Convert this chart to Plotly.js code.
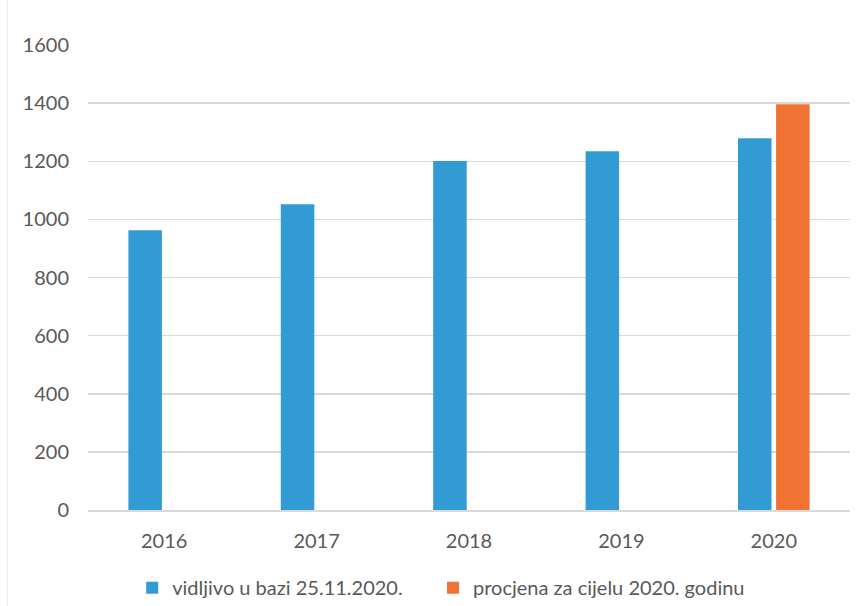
<!DOCTYPE html>
<html><head><meta charset="utf-8">
<script src="https://cdn.plot.ly/plotly-3.0.1.min.js"></script>
<style>html,body{margin:0;padding:0;background:#fff;}#chart{width:867px;height:606px;}</style>
</head><body><div id="chart"></div>
<script>
const categories = ['2016', '2017', '2018', '2019', '2020'];
const visibleValues = [963, 1052, 1201, 1234, 1279];
const estimateValues = [null, null, null, null, 1396];
const seriesNames = ['vidljivo u bazi 25.11.2020.', 'procjena za cijelu 2020. godinu'];
const yTicks = [0, 200, 400, 600, 800, 1000, 1200, 1400, 1600];

const font = 'Lato, "Open Sans", sans-serif';
const traces = [
  {type: 'bar', x: categories, y: visibleValues, name: seriesNames[0], marker: {color: '#339BD4'}, hoverinfo: 'x+y', legend: 'legend'},
  {type: 'bar', x: categories, y: estimateValues, name: seriesNames[1], marker: {color: '#F07333'}, hoverinfo: 'x+y', legend: 'legend2'}
];
const legendStyle = {orientation: 'h', xanchor: 'left', y: -0.125, yanchor: 'top', font: {size: 20, color: '#595959'}, itemwidth: 30};
const layout = {
  width: 867, height: 606,
  margin: {l: 88, r: 17, t: 45, b: 96, autoexpand: false},
  paper_bgcolor: '#fff', plot_bgcolor: '#fff',
  barmode: 'group', bargap: 0.5, bargroupgap: 0.12,
  font: {family: font, size: 20, color: '#595959'},
  xaxis: {type: 'category', showgrid: false, showline: true, linecolor: '#d9d9d9', linewidth: 1.5,
          ticks: '', tickfont: {size: 20, color: '#595959'}, ticklabelstandoff: 12},
  yaxis: {range: [0, 1600], tickvals: yTicks, ticktext: yTicks.map(String), showgrid: true, gridcolor: '#d9d9d9', gridwidth: 1.5,
          zeroline: false, showline: false, ticks: '', tickfont: {size: 20, color: '#595959'}, ticklabelstandoff: 18},
  showlegend: true,
  legend: Object.assign({x: 0.058}, legendStyle),
  legend2: Object.assign({x: 0.4528}, legendStyle),
  shapes: [{type: 'line', xref: 'paper', yref: 'paper', x0: -0.106, x1: -0.106, y0: -0.3, y1: 1.1, line: {color: '#e6e6e6', width: 1}}]
};
Plotly.newPlot('chart', traces, layout, {displayModeBar: false, staticPlot: true});
</script></body></html>
